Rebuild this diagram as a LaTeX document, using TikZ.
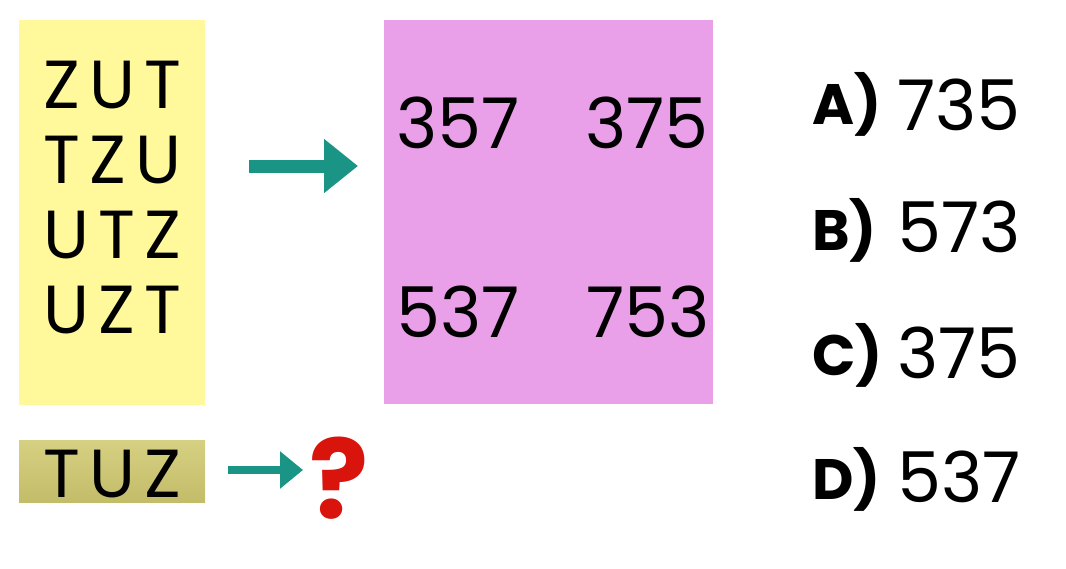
\documentclass[tikz,border=0pt]{standalone}
\usepackage{fontspec}
\setmainfont{Poppins}
\newfontfamily\wordfont[LetterSpace=14]{Poppins}
\newfontfamily\numfont{Poppins}
\usetikzlibrary{arrows.meta}
\definecolor{yellowbox}{HTML}{FFF99B}
\definecolor{pinkbox}{HTML}{E9A0E9}
\definecolor{olivetop}{HTML}{D6D082}
\definecolor{olivebot}{HTML}{C3BC69}
\definecolor{teal}{HTML}{1A9484}
\definecolor{qred}{HTML}{D8140C}
\tikzset{
  word/.style={inner sep=0pt, anchor=base west, font=\wordfont\fontsize{68}{68}\selectfont},
  num/.style={inner sep=0pt, anchor=base, font=\numfont\fontsize{70}{70}\selectfont},
  optlabel/.style={inner sep=0pt, anchor=base west, font=\fontsize{57}{57}\selectfont\bfseries},
  optnum/.style={inner sep=0pt, anchor=base west, font=\numfont\fontsize{70}{70}\selectfont},
  bigarrow/.style={teal, line width=13pt, -{Triangle[length=34pt,width=52pt]}},
  smallarrow/.style={teal, line width=8pt, -{Triangle[length=23pt,width=36pt]}},
}
\begin{document}
\begin{tikzpicture}[x=1pt,y=-1pt]
\useasboundingbox (0,0) rectangle (1066,568);
\fill[white] (0,0) rectangle (1066,568);
% boxes
\fill[yellowbox] (19,20) rectangle (205,405);
\fill[pinkbox] (384,20) rectangle (713,404);
\shade[top color=olivetop, bottom color=olivebot] (19,440) rectangle (205,502);
% left words
\node[word] (w1) at (43,108) {ZUT};
\node[word] (w2) at (43,183) {TZU};
\node[word] (w3) at (43,258) {UTZ};
\node[word] (w4) at (43,333) {UZT};
\node[word] (w5) at (43,497) {TUZ};
% numbers
\node[num] (n1) at (458,148) {357};
\node[num] (n2) at (647,148) {375};
\node[num] (n3) at (458,337) {537};
\node[num] (n4) at (648,337) {753};
% arrows
\coordinate (a1s) at (249,166);
\coordinate (a1e) at (358,166);
\draw[bigarrow] (a1s) -- (a1e);
\coordinate (a2s) at (228,470);
\coordinate (a2e) at (303,470);
\draw[smallarrow] (a2s) -- (a2e);
\node[inner sep=0pt, anchor=base, text=qred, font=\fontsize{110}{110}\selectfont\bfseries] (q) at (339,518) {?};
% options
\node[optlabel] (la) at (812,124) {A)};
\node[optnum] (oa) at (897,130) {735};
\node[optlabel] (lb) at (812,250) {B)};
\node[optnum] (ob) at (897,252) {573};
\node[optlabel] (lc) at (812,375) {C)};
\node[optnum] (oc) at (897,378) {375};
\node[optlabel] (ld) at (812,499) {D)};
\node[optnum] (od) at (897,502) {537};
\end{tikzpicture}
\end{document}
